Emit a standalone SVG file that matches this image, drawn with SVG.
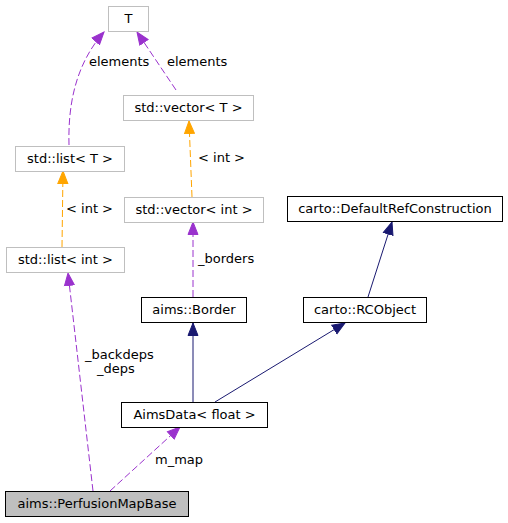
<svg xmlns="http://www.w3.org/2000/svg" width="508" height="523" viewBox="0 0 508 523">
<style>
text{font-family:"DejaVu Sans","Liberation Sans",sans-serif;font-size:13px;fill:#000}
.n text{text-anchor:middle}
.g rect{fill:#fff;stroke:#bfbfbf;stroke-width:1}
.b rect{fill:#fff;stroke:#000;stroke-width:1}
.me rect{fill:#bfbfbf;stroke:#000;stroke-width:1}
.p{fill:none;stroke:#9a32cd;stroke-dasharray:7,3}
.o{fill:none;stroke:#ffa500;stroke-dasharray:7,3}
.s{fill:none;stroke:#191970}
</style>
<defs>
<marker id="ap" markerUnits="userSpaceOnUse" markerWidth="14" markerHeight="12" refX="13" refY="6" orient="auto" viewBox="0 0 14 12"><path d="M0.5,1L13,6L0.5,11z" fill="#9a32cd" stroke="#9a32cd"/></marker>
<marker id="ao" markerUnits="userSpaceOnUse" markerWidth="14" markerHeight="12" refX="13" refY="6" orient="auto" viewBox="0 0 14 12"><path d="M0.5,1L13,6L0.5,11z" fill="#ffa500" stroke="#ffa500"/></marker>
<marker id="as" markerUnits="userSpaceOnUse" markerWidth="14" markerHeight="12" refX="13" refY="6" orient="auto" viewBox="0 0 14 12"><path d="M0.5,1L13,6L0.5,11z" fill="#191970" stroke="#191970"/></marker>
</defs>
<g id="edges">
<path class="p" d="M69,145 C68,108 74,66 104,32" marker-end="url(#ap)"/>
<text x="89" y="66">elements</text>
<path class="p" d="M176,90 L137,32" marker-end="url(#ap)"/>
<text x="167" y="66">elements</text>
<path class="o" d="M192,197 L189,121" marker-end="url(#ao)"/>
<text x="198" y="162">&lt; int &gt;</text>
<path class="o" d="M62,247 L63,171" marker-end="url(#ao)"/>
<text x="66" y="213">&lt; int &gt;</text>
<path class="p" d="M193,297 L193,222" marker-end="url(#ap)"/>
<text x="198" y="263">_borders</text>
<path class="s" d="M193,402 L193,323" marker-end="url(#as)"/>
<path class="s" d="M215,402 L345,323" marker-end="url(#as)"/>
<path class="s" d="M368,297 L392,222" marker-end="url(#as)"/>
<path class="p" d="M93,491 L68,273" marker-end="url(#ap)"/>
<text x="85" y="359">_backdeps</text>
<text x="97" y="373">_deps</text>
<path class="p" d="M110,491 L180,427" marker-end="url(#ap)"/>
<text x="155" y="464">m_map</text>
</g>
<g id="T" class="n g"><rect x="108.5" y="6.5" width="40" height="25"/><text x="128.5" y="23">T</text></g>
<g id="vectorT" class="n g"><rect x="123.5" y="95.5" width="130" height="25"/><text x="188.5" y="112">std::vector&lt; T &gt;</text></g>
<g id="listT" class="n g"><rect x="15.5" y="146.5" width="109" height="25"/><text x="70" y="163">std::list&lt; T &gt;</text></g>
<g id="vectorInt" class="n g"><rect x="124.5" y="197.5" width="139" height="25"/><text x="194" y="214">std::vector&lt; int &gt;</text></g>
<g id="listInt" class="n g"><rect x="6.5" y="247.5" width="118" height="25"/><text x="65.5" y="264">std::list&lt; int &gt;</text></g>
<g id="DefaultRefConstruction" class="n b"><rect x="287.5" y="196.5" width="215" height="25"/><text x="395" y="213">carto::DefaultRefConstruction</text></g>
<g id="Border" class="n b"><rect x="141.5" y="297.5" width="105" height="25"/><text x="194" y="314">aims::Border</text></g>
<g id="RCObject" class="n b"><rect x="303.5" y="297.5" width="123" height="25"/><text x="365" y="314">carto::RCObject</text></g>
<g id="AimsData" class="n b"><rect x="121.5" y="402.5" width="146" height="25"/><text x="194.5" y="419">AimsData&lt; float &gt;</text></g>
<g id="PerfusionMapBase" class="n me"><rect x="5.5" y="491.5" width="183" height="25"/><text x="97" y="508">aims::PerfusionMapBase</text></g>
</svg>
